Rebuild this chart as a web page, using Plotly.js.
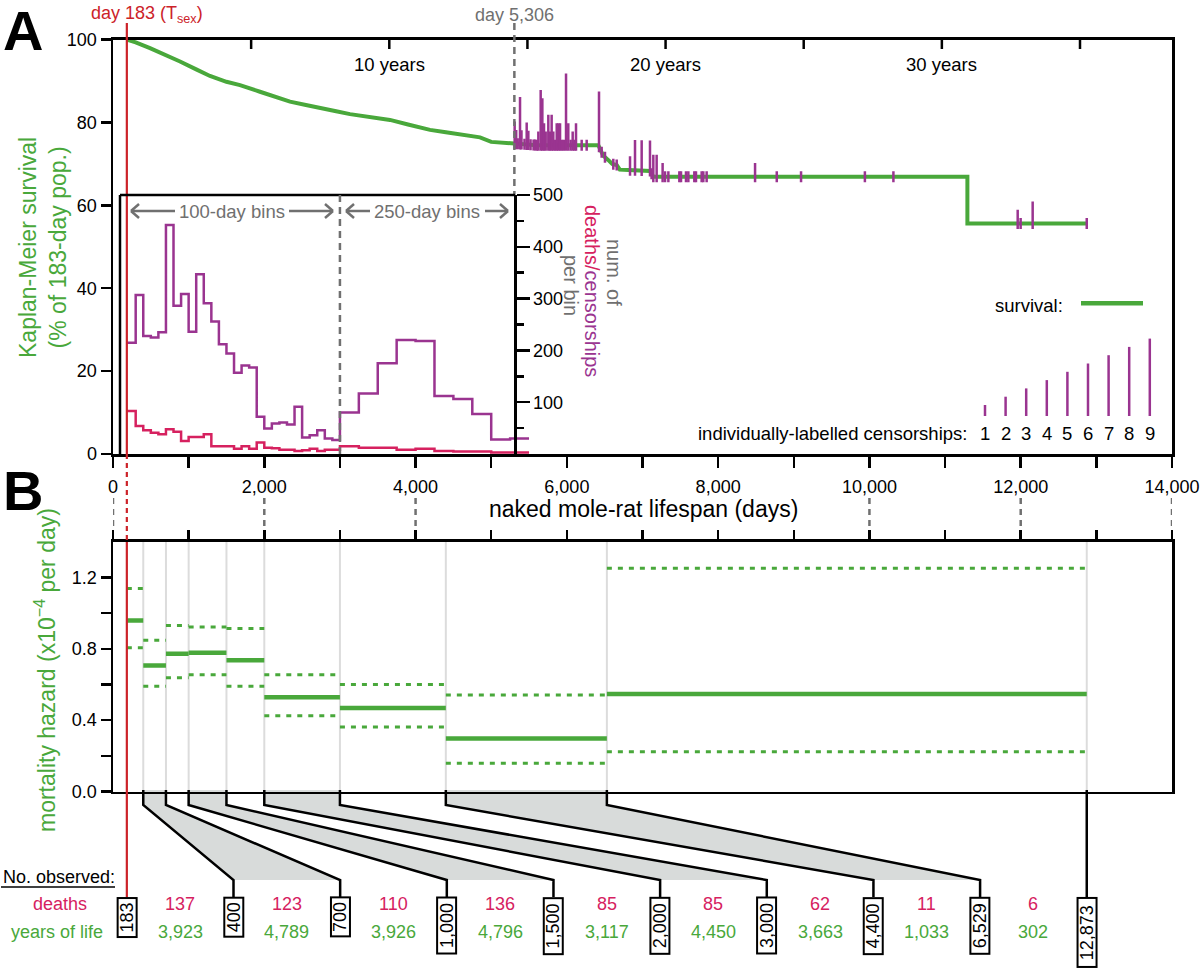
<!DOCTYPE html>
<html><head><meta charset="utf-8">
<script src="https://cdn.plot.ly/plotly-3.0.1.min.js"></script>
<style>html,body{margin:0;padding:0;background:#fff}</style>
</head><body><div id="chart" style="width:1200px;height:969px"></div>
<script>
// ---------------- DATA ----------------
const survDays = [183, 300, 489, 700, 886, 1100, 1282, 1500, 1679, 1943, 2150, 2340, 2550, 2737, 2950, 3133, 3400, 3662, 3900, 4191, 4400, 4588, 4852, 5000, 5116, 5300, 5600, 6416, 6450, 6480, 6549, 6600, 6659, 6700, 6813, 7099, 7143, 11295, 11295, 12873];
const survPct  = [100, 99.3, 97.9, 96.3, 94.7, 92.8, 91.2, 89.8, 89.0, 87.4, 86.2, 85.0, 84.2, 83.6, 82.7, 82.0, 81.3, 80.6, 79.5, 78.2, 77.6, 77.0, 76.4, 75.3, 75.1, 74.9, 74.5, 74.5, 73.2, 72.0, 70.9, 70.0, 69.7, 68.6, 68.5, 68.3, 66.9, 66.9, 55.6, 55.6];

const censorDays   = [5310, 5330, 5350, 5381, 5400, 5440, 5469, 5491, 5520, 5560, 5579, 5601, 5623, 5654, 5676, 5698, 5720, 5755, 5777, 5799, 5821, 5845, 5866, 5888, 5910, 5935, 5960, 5989, 6019, 6050, 6077, 6100, 6121, 6196, 6262, 6425, 6460, 6504, 6614, 6659, 6835, 6901, 6989, 7099, 7120, 7143, 7187, 7266, 7298, 7342, 7487, 7509, 7575, 7606, 7685, 7707, 7782, 7804, 7848, 8488, 8775, 9096, 9940, 10317, 11960, 11999, 12158, 12873];
const censorCounts = [3, 2, 1, 6, 2, 1, 3, 2, 1, 1, 1, 1, 2, 7, 6, 3, 2, 4, 2, 4, 2, 1, 3, 3, 3, 1, 1, 9, 3, 1, 2, 1, 3, 1, 1, 7, 1, 1, 1, 1, 2, 4, 4, 4, 1, 3, 3, 2, 1, 1, 1, 1, 1, 1, 1, 1, 1, 1, 1, 2, 1, 1, 1, 1, 2, 1, 3, 1];

const histBinStarts = [183, 300, 400, 500, 600, 700, 800, 900, 1000, 1100, 1200, 1300, 1400, 1500, 1600, 1700, 1800, 1900, 2000, 2100, 2200, 2300, 2400, 2500, 2600, 2700, 2800, 2900, 3000, 3250, 3500, 3750, 4000, 4250, 4500, 4750, 5000, 5250];
const histBinEnd = 5500;
const censorPerBin = [215, 307, 228, 225, 235, 442, 286, 309, 236, 347, 291, 256, 212, 194, 157, 171, 167, 72, 49, 59, 61, 57, 91, 32, 36, 46, 30, 27, 80, 117, 175, 220, 218, 112, 106, 77, 28, 30];
const deathsPerBin = [83, 54, 46, 41, 38, 48, 43, 25, 33, 33, 38, 15, 15, 15, 10, 15, 10, 22, 12, 11, 8, 8, 6, 7, 10, 6, 8, 8, 15, 12, 12, 8, 10, 6, 5, 5, 3, 3];

const hazEdges = [183, 400, 700, 1000, 1500, 2000, 3000, 4400, 6529, 12873];
const hazard   = [0.958, 0.706, 0.772, 0.778, 0.735, 0.528, 0.468, 0.297, 0.546];
const hazLow   = [0.806, 0.590, 0.637, 0.655, 0.590, 0.424, 0.362, 0.158, 0.223];
const hazHigh  = [1.138, 0.847, 0.931, 0.922, 0.913, 0.654, 0.599, 0.541, 1.251];

const boxLabels = ['183', '400', '700', '1,000', '1,500', '2,000', '3,000', '4,400', '6,529', '12,873'];
const deathsObs = ['137', '123', '110', '136', '85', '85', '62', '11', '6'];
const yearsObs  = ['3,923', '4,789', '3,926', '4,796', '3,117', '4,450', '3,663', '1,033', '302'];

const xTickVals  = [0, 1000, 2000, 3000, 4000, 5000, 6000, 7000, 8000, 9000, 10000, 11000, 12000, 13000, 14000];
const xTickText  = ['0', ' ', '2,000', ' ', '4,000', ' ', '6,000', ' ', '8,000', ' ', '10,000', ' ', '12,000', ' ', '14,000'];
const survTicks  = [0, 20, 40, 60, 80, 100];
const histTicks  = [100, 200, 300, 400, 500];
const histMinor  = [50, 150, 250, 350, 450];
const hazTickVals = [0, 0.2, 0.4, 0.6, 0.8, 1.0, 1.2];
const hazTickText = ['0.0', ' ', '0.4', ' ', '0.8', ' ', '1.2'];
const yearTicks   = [5, 10, 15, 20, 25, 30, 35];
const yearLabels  = [10, 20, 30];
const dashGuideDays = [0, 2000, 4000, 10000, 12000, 14000];
const legendCounts = [1, 2, 3, 4, 5, 6, 7, 8, 9];
const tSexDay = 183, cutDay = 5306, binSwitchDay = 3000;

// ---------------- STYLE / HELPERS ----------------
const W = 1200, H = 969;
const FONT = 'Liberation Sans, Arial, sans-serif';
const GREEN = '#49a83b', PURPLE = '#9a3490', CRIMSON = '#d6215f', RED = '#cc2229', GRAY = '#707070', LGRAY = '#dcdcdc', FILL = '#d8dbda';
const px = x => x / W, py = y => (H - y) / H;

function survAt(d) {
  for (let i = 0; i < survDays.length - 1; i++) {
    if (d >= survDays[i] && d <= survDays[i + 1]) {
      const a = survDays[i], b = survDays[i + 1];
      if (b === a) return survPct[i + 1];
      return survPct[i] + (survPct[i + 1] - survPct[i]) * (d - a) / (b - a);
    }
  }
  return survPct[survPct.length - 1];
}

const shapes = [], annotations = [];
function lineP(x0, y0, x1, y1, color, width, dash, layer) {
  shapes.push({type: 'line', xref: 'paper', yref: 'paper', x0: px(x0), y0: py(y0), x1: px(x1), y1: py(y1),
    line: {color: color, width: width, dash: dash || 'solid'}, layer: layer || 'above'});
}
function lineX(d, y0, y1, color, width, dash, layer) {
  shapes.push({type: 'line', xref: 'x', yref: 'paper', x0: d, x1: d, y0: py(y0), y1: py(y1),
    line: {color: color, width: width, dash: dash || 'solid'}, layer: layer || 'above'});
}
function pathX(points, close, line, fill, layer) {
  const s = 'M' + points.map(p => p[0] + ',' + p[1]).join('L') + (close ? 'Z' : '');
  const sh = {type: 'path', xref: 'x', yref: 'paper', path: s, line: line, layer: layer || 'above'};
  if (fill) sh.fillcolor = fill;
  shapes.push(sh);
}
function ann(text, x, y, size, color, opts) {
  annotations.push(Object.assign({text: text, xref: 'paper', yref: 'paper', x: px(x), y: py(y), showarrow: false,
    xanchor: 'center', yanchor: 'middle', font: {family: FONT, size: size, color: color || 'black'}}, opts || {}));
}
function arrowP(xTail, xHead, y) {
  const dir = Math.sign(xHead - xTail);
  lineP(xTail, y, xHead, y, GRAY, 2.5);
  lineP(xHead, y, xHead - dir * 8, y - 7, GRAY, 2.5);
  lineP(xHead, y, xHead - dir * 8, y + 7, GRAY, 2.5);
}

// ---------------- TRACES ----------------
const traces = [];
const hx = histBinStarts.concat([histBinEnd]);
traces.push({x: hx, y: censorPerBin.concat([censorPerBin[censorPerBin.length - 1]]), xaxis: 'x', yaxis: 'y2',
  mode: 'lines', line: {shape: 'hv', color: PURPLE, width: 2.5}, hoverinfo: 'skip'});
traces.push({x: hx, y: deathsPerBin.concat([deathsPerBin[deathsPerBin.length - 1]]), xaxis: 'x', yaxis: 'y2',
  mode: 'lines', line: {shape: 'hv', color: CRIMSON, width: 2.5}, hoverinfo: 'skip'});
traces.push({x: survDays, y: survPct, xaxis: 'x', yaxis: 'y', mode: 'lines', line: {color: GREEN, width: 4}, hoverinfo: 'skip'});
const cx = [], cy = [];
censorDays.forEach((d, i) => {
  const s = survAt(d);
  const y0 = s - 1.33, y1 = y0 + 0.65 + 2.0 * censorCounts[i];
  cx.push(d, d, null); cy.push(y0, y1, null);
});
traces.push({x: cx, y: cy, xaxis: 'x', yaxis: 'y', mode: 'lines', line: {color: PURPLE, width: 2.5}, hoverinfo: 'skip'});
const hzx = [], hzy = [], lox = [], loy = [], hix = [], hiy = [];
hazard.forEach((h, i) => {
  const a = hazEdges[i], b = hazEdges[i + 1];
  hzx.push(a, b, null); hzy.push(h, h, null);
  lox.push(a, b, null); loy.push(hazLow[i], hazLow[i], null);
  hix.push(a, b, null); hiy.push(hazHigh[i], hazHigh[i], null);
});
traces.push({x: lox, y: loy, xaxis: 'x2', yaxis: 'y3', mode: 'lines', line: {color: GREEN, width: 3, dash: '5px,6px'}, hoverinfo: 'skip'});
traces.push({x: hix, y: hiy, xaxis: 'x2', yaxis: 'y3', mode: 'lines', line: {color: GREEN, width: 3, dash: '5px,6px'}, hoverinfo: 'skip'});
traces.push({x: hzx, y: hzy, xaxis: 'x2', yaxis: 'y3', mode: 'lines', line: {color: GREEN, width: 4.5}, hoverinfo: 'skip'});

// ---------------- SHAPES ----------------
lineX(tSexDay, 23, 454, RED, 2.2);
lineX(tSexDay, 454, 542, RED, 2.2, '5px,4px');
lineX(tSexDay, 542, 897, RED, 2.2);
lineX(cutDay, 23, 195, GRAY, 2.5, '7px,5px');
lineP(120, 195, 120, 454, 'black', 2.5);
lineP(120, 195, 515, 195, 'black', 2.5);
lineX(binSwitchDay, 195, 454, GRAY, 2.5, '7px,5px');
yearTicks.forEach(yr => lineX(yr * 365.25, 39.5, 49, 'black', 2.5));
dashGuideDays.forEach(d => lineX(d, 498, 530, GRAY, 2.5, '6px,5px'));
hazEdges.slice(1).forEach(e => lineX(e, 542, 790, LGRAY, 2, null, 'below'));
const nBox = boxLabels.length;
const boxDays = boxLabels.map((_, i) => hazEdges[0] + i * (hazEdges[hazEdges.length - 1] - hazEdges[0]) / (nBox - 1));
[[1, 2], [3, 4], [5, 6], [7, 8]].forEach(([a, b]) => {
  pathX([[hazEdges[a], py(790)], [hazEdges[a], py(805)], [boxDays[a], py(880)], [boxDays[b], py(880)], [hazEdges[b], py(805)], [hazEdges[b], py(790)]],
    true, {width: 0}, FILL, 'below');
});
for (let i = 1; i < nBox; i++) {
  pathX([[hazEdges[i], py(790)], [hazEdges[i], py(805)], [boxDays[i], py(880)], [boxDays[i], py(897)]], false, {color: 'black', width: 2.5});
}
lineP(1081, 303.3, 1143, 303.3, GREEN, 4.5);
legendCounts.forEach(n => {
  const x = 985 + (n - 1) * 20.6;
  lineP(x, 416, x, 416 - (2.7 + 8.3 * n), PURPLE, 2.5);
  ann(String(n), x, 433, 18.5, 'black');
});
arrowP(175, 131, 211); arrowP(289, 333, 211);
arrowP(370, 346, 211); arrowP(485, 508, 211);
lineP(1, 887, 115, 887, 'black', 1.5);

// ---------------- ANNOTATIONS ----------------
ann('<b>A</b>', 1, 31, 56, 'black', {xanchor: 'left'});
ann('<b>B</b>', 1, 490, 56, 'black', {xanchor: 'left'});
ann('day 183 (T<sub>sex</sub>)', 147, 15, 18, RED);
annotations.push({text: 'day 5,306', xref: 'x', yref: 'paper', x: cutDay, y: py(15), showarrow: false, xanchor: 'center', yanchor: 'middle', font: {family: FONT, size: 18, color: GRAY}});
yearLabels.forEach(yr => annotations.push({text: yr + ' years', xref: 'x', yref: 'paper', x: yr * 365.25, y: py(65), showarrow: false, xanchor: 'center', yanchor: 'middle', font: {family: FONT, size: 18.5, color: 'black'}}));
ann('Kaplan-Meier survival<br>(% of 183-day pop.)', 43, 248, 23, GREEN, {textangle: -90});
ann('100-day bins', 232, 211, 18.5, GRAY);
ann('250-day bins', 427, 211, 18.5, GRAY);
ann('num. of', 614, 272, 20, GRAY, {textangle: 90});
ann('<span style="color:' + CRIMSON + '">deaths/</span><span style="color:' + PURPLE + '">censorships</span>', 592, 291, 20, PURPLE, {textangle: 90});
ann('per bin', 571, 285, 20, GRAY, {textangle: 90});
ann('survival:', 1065, 305.7, 18.5, 'black', {xanchor: 'right'});
ann('individually-labelled censorships:', 969, 433, 18.5, 'black', {xanchor: 'right'});
ann('naked mole-rat lifespan (days)', 643, 509, 23, 'black');
ann('mortality hazard (x10<sup>\u22124</sup> per day)', 45, 670, 23, GREEN, {textangle: -90});
ann('No. observed:', 1, 877, 18, 'black', {xanchor: 'left'});
ann('deaths', 60, 904, 18, CRIMSON);
ann('years of life', 57, 932, 18, GREEN);
boxLabels.forEach((lab, i) => {
  const digits = lab.replace(/,/g, '').length, commas = lab.length - digits;
  annotations.push({text: lab, xref: 'x', yref: 'paper', x: boxDays[i], y: py(896.7), showarrow: false,
    xanchor: 'center', yanchor: 'top', textangle: -90, width: 12.3 * digits + 5 * commas, height: 17,
    bordercolor: 'black', borderwidth: 2, borderpad: 0, bgcolor: 'white', font: {family: FONT, size: 18, color: 'black'}});
});
deathsObs.forEach((v, i) => {
  const mid = (boxDays[i] + boxDays[i + 1]) / 2;
  annotations.push({text: v, xref: 'x', yref: 'paper', x: mid, y: py(904), showarrow: false, xanchor: 'center', yanchor: 'middle', font: {family: FONT, size: 18, color: CRIMSON}});
  annotations.push({text: yearsObs[i], xref: 'x', yref: 'paper', x: mid, y: py(932), showarrow: false, xanchor: 'center', yanchor: 'middle', font: {family: FONT, size: 18, color: GREEN}});
});

// ---------------- LAYOUT ----------------
const xDom = [113 / W, 1172 / W];
const axBase = {showgrid: false, zeroline: false, showline: true, linecolor: 'black', linewidth: 2.5, tickcolor: 'black', tickwidth: 2.5,
  tickfont: {family: FONT, size: 18, color: 'black'}};
const layout = {
  width: W, height: H, margin: {l: 0, r: 0, t: 0, b: 0}, paper_bgcolor: 'white', plot_bgcolor: 'rgba(0,0,0,0)',
  showlegend: false, font: {family: FONT},
  xaxis: Object.assign({}, axBase, {domain: xDom, range: [0, 14000], anchor: 'y', mirror: true, ticks: 'outside', ticklen: 11,
    tickmode: 'array', tickvals: xTickVals, ticktext: xTickText, ticklabelstandoff: 4}),
  yaxis: Object.assign({}, axBase, {domain: [py(454), py(39.5)], range: [0, 100], anchor: 'x', mirror: true, ticks: 'outside', ticklen: 10,
    tickmode: 'array', tickvals: survTicks}),
  yaxis2: Object.assign({}, axBase, {domain: [py(454), py(195)], range: [0, 500], anchor: 'free', position: 515 / W, side: 'right',
    ticks: 'outside', ticklen: 13, tickmode: 'array', tickvals: histTicks,
    minor: {tickmode: 'array', tickvals: histMinor, ticks: 'outside', ticklen: 7, tickwidth: 2.5, tickcolor: 'black'}}),
  xaxis2: Object.assign({}, axBase, {domain: xDom, range: [0, 14000], anchor: 'y3', side: 'top', mirror: true, ticks: 'outside', ticklen: 9,
    tickmode: 'array', tickvals: xTickVals, showticklabels: false}),
  yaxis3: Object.assign({}, axBase, {domain: [py(791.5), py(541.7)], range: [0, 1.4], anchor: 'x2', mirror: true, ticks: 'outside', ticklen: 10,
    tickmode: 'array', tickvals: hazTickVals, ticktext: hazTickText}),
  shapes: shapes, annotations: annotations
};
Plotly.newPlot('chart', traces, layout, {staticPlot: true});
</script></body></html>
